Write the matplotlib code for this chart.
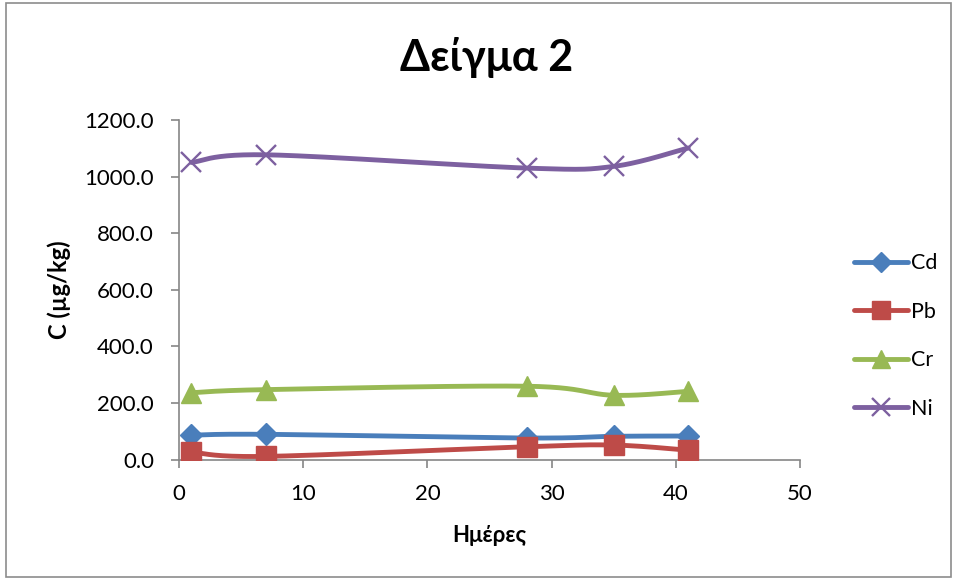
import numpy as np
import matplotlib
matplotlib.use("Agg")
import matplotlib.pyplot as plt
from matplotlib.lines import Line2D
from matplotlib.patches import Rectangle

plt.rcParams['font.family'] = ['Lato', 'Open Sans', 'DejaVu Sans']

# Sampling days and concentrations (µg/kg)
days = [1, 7, 28, 35, 41]
cd = [86, 89, 76, 82, 83]
pb = [26, 11, 45, 51, 33]
cr = [236, 247, 259, 227, 241]
ni = [1050, 1077, 1030, 1036, 1101]

series_names = ["Cd", "Pb", "Cr", "Ni"]
series_values = [cd, pb, cr, ni]
colors = ["#4A7EBB", "#BE4B48", "#98B954", "#7D60A0"]
markers = ["D", "s", "^", "x"]
marker_sizes = [11, 14.5, 14, 15]

x_ticks = [0, 10, 20, 30, 40, 50]
y_ticks = [0, 200, 400, 600, 800, 1000, 1200]

fig = plt.figure(figsize=(9.57, 5.79), dpi=100)
fig.patches.append(Rectangle((0.006, 0.004), 0.988, 0.99, transform=fig.transFigure,
                             fill=False, edgecolor="#8c8c8c", linewidth=1.2))

ax = fig.add_axes([179 / 957, 1 - 459.5 / 579, 621 / 957, 339.5 / 579])
ax.set_xlim(0, 50)
ax.set_ylim(0, 1200)


def smooth_path(ax, xs, ys, n=40):
    """Cubic Bezier through the points, control points from neighbours (display space)."""
    pts = ax.transData.transform(np.column_stack([xs, ys]))
    m = len(pts)
    out = [pts[0]]
    t = np.linspace(0, 1, n)[1:, None]
    for i in range(m - 1):
        p0 = pts[i - 1] if i > 0 else pts[i]
        p1 = pts[i]
        p2 = pts[i + 1]
        p3 = pts[i + 2] if i + 2 < m else pts[i + 1]
        c1 = p1 + (p2 - p0) / 6.0
        c2 = p2 - (p3 - p1) / 6.0
        seg = ((1 - t) ** 3) * p1 + 3 * ((1 - t) ** 2) * t * c1 + 3 * (1 - t) * t ** 2 * c2 + t ** 3 * p2
        out.extend(seg)
    out = np.array(out)
    data = ax.transData.inverted().transform(out)
    return data[:, 0], data[:, 1]


LW = 3.5
handles = []
for name, vals, col, mk, ms in zip(series_names, series_values, colors, markers, marker_sizes):
    sx, sy = smooth_path(ax, days, vals)
    ax.plot(sx, sy, color=col, linewidth=LW, solid_capstyle="round", zorder=2)
    mew = 1.7 if mk == "x" else 1.0
    ax.plot(days, vals, linestyle="none", marker=mk, markersize=ms, markeredgewidth=mew,
            color=col, markeredgecolor=col, zorder=3)
    handles.append(Line2D([0], [0], color=col, linewidth=LW, marker=mk,
                          markersize=ms * 0.9, markeredgewidth=mew,
                          solid_capstyle="round"))

ax.set_xticks(x_ticks)
ax.set_yticks(y_ticks)
ax.set_yticklabels([f"{v:.1f}" for v in y_ticks])
for side in ("top", "right"):
    ax.spines[side].set_visible(False)
for side in ("left", "bottom"):
    ax.spines[side].set_color("#868686")
    ax.spines[side].set_linewidth(1.2)
ax.tick_params(axis="both", direction="out", length=6, width=1.2, color="#868686",
               labelsize=16, labelcolor="black", pad=12)

ax.set_xlabel("Ημέρες", fontsize=16, fontweight="bold", va="center")
ax.xaxis.set_label_coords(0.5, -(535 - 459.5) / 339.5)
ax.set_ylabel("C (µg/kg)", fontsize=17, fontweight="bold", va="center")
ax.yaxis.set_label_coords((59 - 179) / 621, 0.5)

fig.text(487 / 957, 1 - 58 / 579, "Δείγμα 2", ha="center", va="center",
         fontsize=31, fontweight="bold")

fig.legend(handles, series_names, loc="center left",
           bbox_to_anchor=(854 / 957, 1 - 336 / 579), frameon=False,
           borderpad=0, borderaxespad=0,
           fontsize=15.5, handlelength=2.5, handletextpad=0.15, labelspacing=1.33)

fig.savefig("out.png", dpi=100)
